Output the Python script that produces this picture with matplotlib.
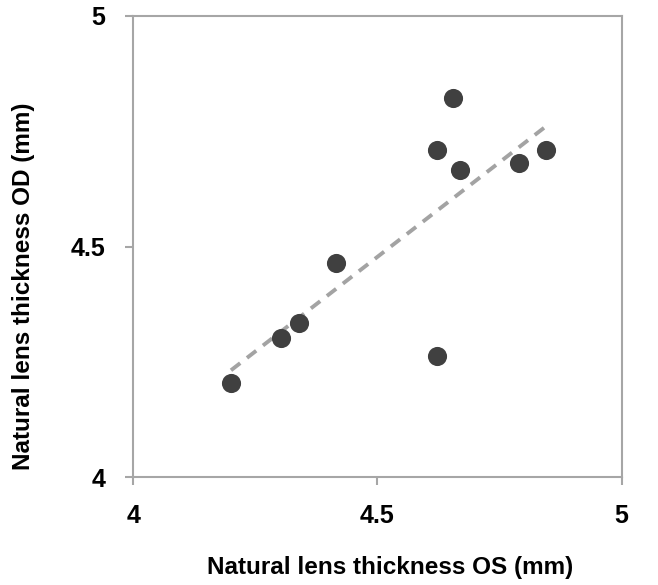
import numpy as np
import matplotlib.pyplot as plt

# natural lens thickness (mm)
os_mm = [4.200, 4.302, 4.339, 4.416, 4.621, 4.655, 4.668, 4.621, 4.790, 4.845]
od_mm = [4.205, 4.301, 4.335, 4.464, 4.709, 4.821, 4.666, 4.263, 4.680, 4.709]

x = np.array(os_mm)
y = np.array(od_mm)

fig = plt.figure(figsize=(6.58, 5.85), dpi=100)
ax = fig.add_axes([0.2026, 0.184, 0.7422, 0.789])

# linear trend line
m, b = np.polyfit(x, y, 1)
xl = np.array([x.min(), x.max()])
ax.plot(xl, m * xl + b, color='#a3a3a3', lw=2.8, ls=(0, (3, 2.2)), zorder=2)

ax.scatter(x, y, s=190, color='#404040', zorder=3, linewidths=0)

ax.set_xlim(4, 5)
ax.set_ylim(4, 5)
ax.set_xticks([4, 4.5, 5])
ax.set_yticks([4, 4.5, 5])
ax.set_xticklabels(['4', '4.5', '5'])
ax.set_yticklabels(['4', '4.5', '5'])

for s in ax.spines.values():
    s.set_color('#a6a6a6')
    s.set_linewidth(1.5)
ax.tick_params(colors='#a6a6a6', width=1.5, length=6, labelcolor='black')
ax.tick_params(axis='x', pad=13)
ax.tick_params(axis='y', pad=14)
for lab in ax.get_xticklabels() + ax.get_yticklabels():
    lab.set_fontweight('bold')
    lab.set_fontsize(18)
    lab.set_family('Liberation Sans')

ax.set_xlabel('Natural lens thickness OS (mm)', fontsize=17.5, fontweight='bold',
              family='Liberation Sans', labelpad=20)
ax.set_ylabel('Natural lens thickness OD (mm)', fontsize=17.5, fontweight='bold',
              family='Liberation Sans', labelpad=26)
# labels sit a bit off-centre in the original
ax.xaxis.label.set_x(0.526)
ax.yaxis.label.set_y(0.414)

fig.savefig('out.png', dpi=100)
